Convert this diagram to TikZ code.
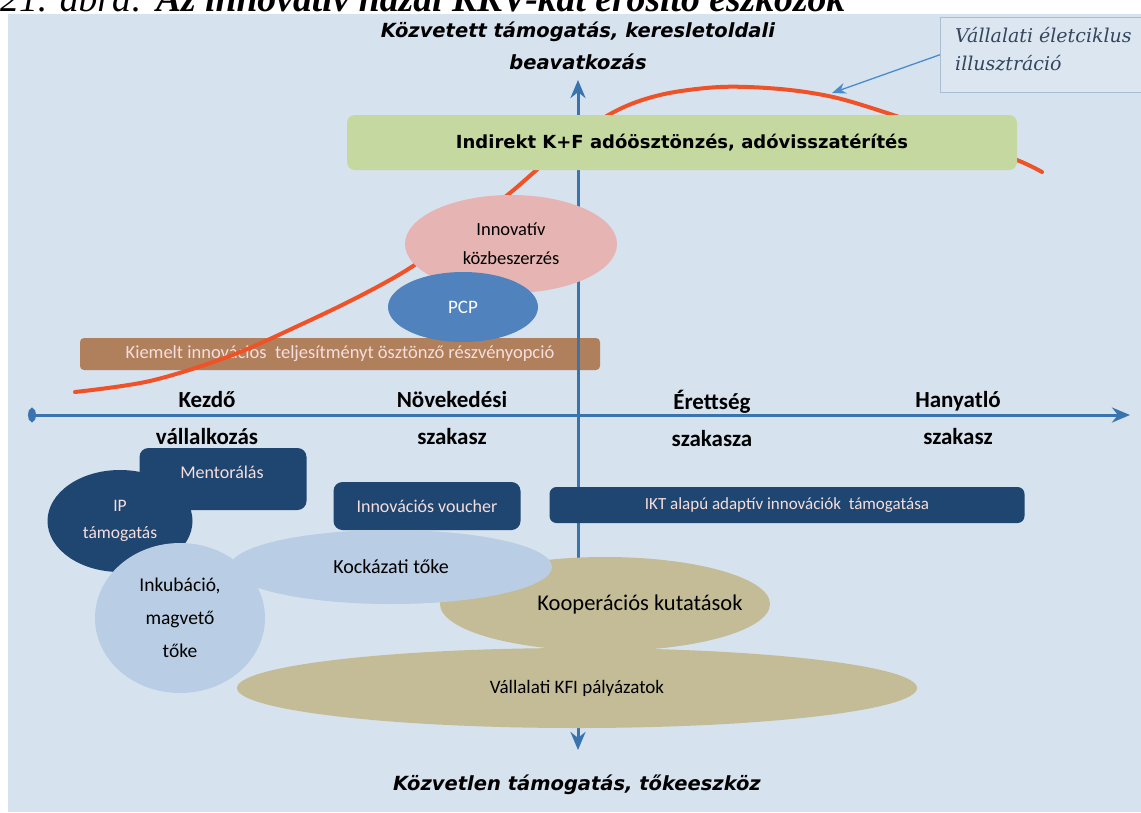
\documentclass[tikz,border=0pt]{standalone}
\usepackage{fontspec}
\setmainfont{Carlito}
\newfontfamily\axisfont{DejaVu Sans}
\newfontfamily\notefont{DejaVu Serif}
\newfontfamily\titlefont{Liberation Serif}
\usetikzlibrary{arrows.meta,shapes.geometric}

\definecolor{panel}{HTML}{D6E2EE}
\definecolor{axisblue}{HTML}{3A74AE}
\definecolor{lifered}{HTML}{F05228}
\definecolor{taxgreen}{HTML}{C4D8A0}
\definecolor{procpink}{HTML}{E6B4B2}
\definecolor{pcpblue}{HTML}{5082BE}
\definecolor{optbrown}{HTML}{B0805C}
\definecolor{navy}{HTML}{1F4670}
\definecolor{paleblue}{HTML}{B9CDE4}
\definecolor{tan}{HTML}{C4BC96}
\definecolor{notefill}{HTML}{DCE6F1}
\definecolor{noteline}{HTML}{A9BED4}
\definecolor{notetext}{HTML}{34465C}
\definecolor{pointer}{HTML}{4A8CCB}
\definecolor{lighttext}{HTML}{F6DEDC}

\begin{document}
\begin{tikzpicture}[x=1pt,y=-1pt,
  axisline/.style={draw=axisblue,line width=3pt},
  stage/.style={font=\bfseries\fontsize{23}{37}\selectfont,align=center,text=black},
  darkbox/.style={rectangle,rounded corners=9pt,fill=navy,text=lighttext,
    inner sep=0pt,font=\fontsize{18}{21}\selectfont,align=center},
  blob/.style={ellipse,inner sep=0pt,align=center,font=\fontsize{19}{22}\selectfont},
  sidelabel/.style={font=\axisfont\bfseries\itshape\fontsize{19.5}{32}\selectfont,align=center}
]
\useasboundingbox (0,0) rectangle (1141,812);
\fill[white] (0,0) rectangle (1141,812);
\fill[panel] (8,14) rectangle (1141,812);

% figure caption, cut by the page top
\node[anchor=base west,inner sep=0pt] (caption) at (0,11)
  {\resizebox{845pt}{!}{\titlefont\itshape 21. ábra: \bfseries Az innovatív hazai KKV-kat erősítő eszközök}};

% vertical axis labels
\node[sidelabel] (demand) at (578,46) {Közvetett támogatás, keresletoldali\\beavatkozás};
\node[sidelabel] (direct) at (577,785) {Közvetlen támogatás, tőkeeszköz};

% share option bar (under the axis and the curve)
\node[rectangle,rounded corners=4pt,fill=optbrown,minimum width=520pt,minimum height=32pt,
  inner sep=0pt,text=lighttext,font=\fontsize{18.5}{20}\selectfont] (option) at (340,354)
  {Kiemelt innovációs\ \ teljesítményt ösztönző részvényopció};

% vertical axis
\coordinate (vtop) at (578,80);
\coordinate (vbot) at (578,750);
\draw[axisline,{Stealth[length=18pt,width=15pt]}-{Stealth[length=18pt,width=15pt]}] (vbot) -- (vtop);

% company life-cycle curve
\draw[lifered,line width=4pt,line cap=round] plot[smooth,tension=0.55] coordinates {
  (75,392) (150,381) (230,356) (300,325) (360,296) (410,268) (460,232) (510,193)
  (560,150) (612,113) (660,95) (720,87) (780,89) (833,97) (887,113) (950,135)
  (1017,160) (1042,172)};
\coordinate (curvept) at (832,93);

% demand side instruments
\node[rectangle,rounded corners=8pt,fill=taxgreen,minimum width=670pt,minimum height=55pt,
  inner sep=0pt,font=\axisfont\bfseries\fontsize{18}{22}\selectfont] (tax) at (682,142.5)
  {Indirekt K+F adóösztönzés, adóvisszatérítés};
\node[blob,fill=procpink,minimum width=212pt,minimum height=98pt,font=\fontsize{18.5}{29}\selectfont] (proc) at (511,244)
  {Innovatív\\közbeszerzés};
\node[blob,fill=pcpblue,minimum width=150pt,minimum height=70pt,text=white,font=\fontsize{19}{22}\selectfont] (pcp) at (463,307) {PCP};

% horizontal axis
\coordinate (hstart) at (28,415);
\coordinate (hend) at (1130,415);
\draw[axisline,{Ellipse[length=8pt,width=14pt]}-{Stealth[length=18pt,width=15pt]}] (hstart) -- (hend);

\node[stage] (s1) at (207,418) {Kezdő\\vállalkozás};
\node[stage] (s2) at (452,418) {Növekedési\\szakasz};
\node[stage] (s3) at (712,418) {Érettség\\szakasza};
\node[stage] (s4) at (958,418) {Hanyatló\\szakasz};

% direct instruments
\node[darkbox,minimum width=167pt,minimum height=62pt] (mentor) at (223,479) {};
\node[text=lighttext,font=\fontsize{18}{21}\selectfont] (mentortext) at (222,472) {Mentorálás};
\node[blob,fill=navy,text=lighttext,minimum width=145pt,minimum height=102pt,font=\fontsize{17.5}{27}\selectfont] (ip) at (120,521) {IP\\támogatás};
\node[darkbox,minimum width=187pt,minimum height=48pt] (voucher) at (427,506) {Innovációs voucher};
\node[darkbox,rounded corners=7pt,minimum width=475pt,minimum height=36pt,font=\fontsize{17}{20}\selectfont] (ikt) at (787,505)
  {IKT alapú adaptív innovációk\ \ támogatása};

\node[blob,fill=tan,minimum width=330pt,minimum height=94pt] (coop) at (605,604) {};
\node[blob,fill=paleblue,minimum width=322pt,minimum height=74pt,font=\fontsize{20}{23}\selectfont] (venture) at (391,567) {Kockázati tőke};
\node[font=\fontsize{22.5}{26}\selectfont] (cooptext) at (640,604) {Kooperációs kutatások};
\node[blob,fill=paleblue,minimum width=170pt,minimum height=150pt,font=\fontsize{19.5}{33}\selectfont] (incub) at (180,618)
  {Inkubáció,\\magvető\\tőke};
\node[blob,fill=tan,minimum width=680pt,minimum height=80pt] (kfi) at (577,688) {Vállalati KFI pályázatok};

% life-cycle note
\node[rectangle,draw=noteline,fill=notefill,anchor=north west,minimum width=215pt,minimum height=75pt] (note) at (940,17) {};
\node[anchor=west,inner sep=0pt,align=left,text=notetext,
  font=\notefont\itshape\fontsize{19}{28}\selectfont] (notetext) at (955,49)
  {Vállalati életciklus\\illusztráció};
\draw[pointer,line width=1.3pt,-{Stealth[length=14pt,width=11pt]}] (note.west) -- (curvept);
\end{tikzpicture}
\end{document}
